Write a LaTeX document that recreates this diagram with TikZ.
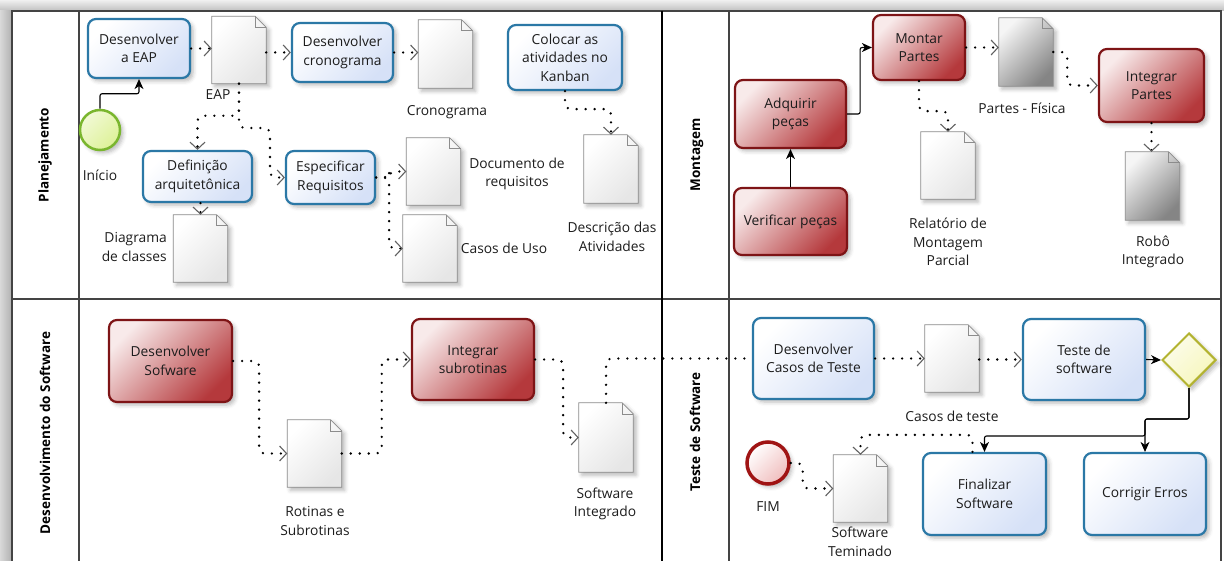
\documentclass[tikz,border=0pt]{standalone}
\usepackage{fontspec}
\setmainfont{Open Sans}
\usetikzlibrary{arrows.meta,shapes.geometric,shadows.blur}

\definecolor{taskblue}{HTML}{2B78A6}
\definecolor{taskbluefill}{HTML}{D6E1F7}
\definecolor{taskred}{HTML}{7E1416}
\definecolor{taskredfill}{HTML}{B5393C}
\definecolor{taskredlight}{HTML}{F8EAEA}
\definecolor{docline}{HTML}{8C8C8C}
\definecolor{docgray}{HTML}{858585}
\definecolor{docpale}{HTML}{E6E6E6}
\definecolor{startline}{HTML}{7AB62E}
\definecolor{startfill}{HTML}{DDF197}
\definecolor{endline}{HTML}{A01414}
\definecolor{endfill}{HTML}{F0BDBD}
\definecolor{gwline}{HTML}{B3B330}
\definecolor{gwfill}{HTML}{F6F6BC}
\definecolor{txt}{HTML}{1C1C1C}
\definecolor{frameline}{HTML}{444444}

\tikzset{
  lbl/.style={font=\fontsize{13.8}{18.5}\selectfont, text=txt, align=center, inner sep=0pt},
  lanelbl/.style={font=\fontsize{13.5}{16}\selectfont\bfseries, text=black, rotate=90, inner sep=0pt},
  softshadow/.style={blur shadow={shadow xshift=3pt, shadow yshift=-3pt, shadow blur radius=4pt, shadow opacity=28}},
  bluetask/.style={lbl, rectangle, rounded corners=8pt, line width=2.2pt, draw=taskblue,
    left color=white, right color=taskbluefill, shading angle=45, softshadow},
  redtask/.style={lbl, rectangle, rounded corners=8pt, line width=2.2pt, draw=taskred,
    left color=taskredlight, right color=taskredfill, shading angle=45, softshadow},
  docbox/.style={rectangle, draw=none, inner sep=0pt, minimum width=54pt, minimum height=67pt},
  lightdoc/.style={draw=docline, line width=0.8pt, left color=white, right color=docpale, shading angle=45, softshadow},
  darkdoc/.style={draw=docline, line width=0.8pt, left color=white!92!docgray, right color=docgray, shading angle=45, softshadow},
  docfold/.style={draw=docline, line width=0.6pt},
  startev/.style={circle, minimum size=40pt, inner sep=0pt, line width=2.5pt, draw=startline,
    left color=white!60!startfill, right color=startfill, shading angle=45, softshadow},
  endev/.style={circle, minimum size=40pt, inner sep=0pt, line width=3.5pt, draw=endline,
    left color=white, right color=endfill, shading angle=45, softshadow},
  gateway/.style={diamond, aspect=1, minimum width=54pt, minimum height=54pt, inner sep=0pt,
    line width=2pt, draw=gwline, left color=white!70!gwfill, right color=gwfill, shading angle=45, softshadow},
  dataplain/.style={line width=2.6pt, line cap=round, dash pattern=on 0pt off 9pt, rounded corners=6pt},
  data/.style={dataplain,
    -{Straight Barb[length=7pt,width=15pt,line width=1.1pt,color=black!62]}},
  seq/.style={line width=1.1pt, draw=black, rounded corners=2pt, -{Stealth[length=10pt,width=9pt,inset=3pt]}},
}

% page outline with folded corner, drawn around a named doc node
\newcommand\pageoutline[2]{%
  \path[#1] (#2.south west) -- (#2.north west) -- ([xshift=-11pt]#2.north east)
     -- ([yshift=-11pt]#2.north east) -- (#2.south east) -- cycle;
  \draw[docfold] ([xshift=-11pt]#2.north east) -- ([xshift=-11pt,yshift=-11pt]#2.north east)
     -- ([yshift=-11pt]#2.north east);
}

\begin{document}
\begin{tikzpicture}[x=1pt,y=-1pt]
\useasboundingbox (0,0) rectangle (1224,561);

% window frame shading
\shade[top color=gray!12, bottom color=gray!50] (0,0) rectangle (1224,11);
\shade[left color=gray!30, right color=gray!62] (0,11) rectangle (12,561);

% pool frame and lanes
\draw[frameline, line width=1.3pt] (12,561) -- (12,11) -- (1221,11) -- (1221,561);
\draw[frameline, line width=1.3pt] (12,299) -- (1221,299);
\draw[frameline, line width=1.3pt] (79,11) -- (79,561);
\draw[frameline, line width=1.3pt] (729,11) -- (729,561);
\draw[black, line width=2.6pt] (662,11) -- (662,561);

\node[lanelbl] (lane_plan) at (45,155) {Planejamento};
\node[lanelbl] (lane_mont) at (697,155) {Montagem};
\node[lanelbl] (lane_dev) at (45,433) {Desenvolvimento do Software};
\node[lanelbl] (lane_test) at (695,432) {Teste de Software};

% ---------- Planejamento ----------
\node[bluetask, minimum width=102pt, minimum height=59pt] (t_eap) at (139,48.5) {Desenvolver\\a EAP};
\node[bluetask, minimum width=101pt, minimum height=59pt] (t_crono) at (342.5,52.5) {Desenvolver\\cronograma};
\node[bluetask, minimum width=114pt, minimum height=65pt] (t_kanban) at (565,57.5) {Colocar as\\atividades no\\Kanban};
\node[bluetask, minimum width=109pt, minimum height=51pt] (t_def) at (197.5,176.5) {Definição\\arquitetônica};
\node[bluetask, minimum width=89pt, minimum height=53pt] (t_espec) at (330.5,177.5) {Especificar\\Requisitos};

\node[startev] (start) at (100,130) {};
\node[lbl] (l_start) at (100,175) {Início};

\node[docbox] (d_eap) at (239,50) {};
\pageoutline{lightdoc}{d_eap}
\node[lbl] (l_eap) at (218,95) {EAP};
\node[docbox, minimum height=68pt] (d_crono) at (445.5,54) {};
\pageoutline{lightdoc}{d_crono}
\node[lbl] (l_crono) at (447,112) {Cronograma};
\node[docbox, minimum height=68pt] (d_desc) at (611,169) {};
\pageoutline{lightdoc}{d_desc}
\node[lbl] (l_desc) at (612,237) {Descrição das\\Atividades};
\node[docbox] (d_diag) at (200.5,248.5) {};
\pageoutline{lightdoc}{d_diag}
\node[lbl, align=right, anchor=east] (l_diag) at (167,247) {Diagrama\\de classes};
\node[docbox] (d_docreq) at (433.5,171.5) {};
\pageoutline{lightdoc}{d_docreq}
\node[lbl] (l_docreq) at (517,174) {Documento de\\requisitos};
\node[docbox] (d_casos) at (430,248.5) {};
\pageoutline{lightdoc}{d_casos}
\node[lbl] (l_casos) at (504,248) {Casos de Uso};

\draw[seq] (start.north) -- ++(0,-15) -| (t_eap.south);
\draw[data] (t_eap.east) -- (t_eap.east -| d_eap.west);
\draw[data] (d_eap.east |- t_crono.west) -- (t_crono.west);
\draw[data] (t_crono.east) -- (t_crono.east -| d_crono.west);
\draw[data] (t_kanban.south) -- ++(0,18) -| (d_desc.north);
\draw[data] (d_eap.south) -- ++(0,32) -| (t_def.north);
\draw[data] (d_eap.south) |- (270,128) |- (t_espec.west);
\draw[data] (t_def.south -| d_diag.north) -- (d_diag.north);
\draw[data] (t_espec.east) -- ++(13,0) |- (d_docreq.west);
\draw[data] (t_espec.east) -- ++(13,0) |- (d_casos.west);

% ---------- Montagem ----------
\node[redtask, minimum width=92pt, minimum height=65pt] (t_montar) at (919,47.5) {Montar\\Partes};
\node[redtask, minimum width=111pt, minimum height=68pt] (t_adq) at (790.5,114) {Adquirir\\peças};
\node[redtask, minimum width=113pt, minimum height=67pt] (t_verif) at (790.5,221.5) {Verificar peças};
\node[redtask, minimum width=105pt, minimum height=73pt] (t_integ) at (1151.5,85.5) {Integrar\\Partes};

\node[docbox] (d_rel) at (948,165.5) {};
\pageoutline{lightdoc}{d_rel}
\node[lbl] (l_rel) at (948,242) {Relatório de\\Montagem\\Parcial};
\node[docbox, minimum height=68pt] (d_partes) at (1026,52) {};
\pageoutline{darkdoc}{d_partes}
\node[lbl] (l_partes) at (1022,108) {Partes - Física};
\node[docbox, minimum height=68pt] (d_robo) at (1152.5,186) {};
\pageoutline{darkdoc}{d_robo}
\node[lbl] (l_robo) at (1153,252) {Robô\\Integrado};

\draw[seq] (t_verif.north) -- (t_adq.south);
\draw[seq] (t_adq.east) -- ++(13,0) |- (t_montar.west);
\draw[data] (t_montar.south) -- ++(0,30) -| (d_rel.north);
\draw[data] (t_montar.east) -- (t_montar.east -| d_partes.west);
\draw[data] (d_partes.east) -- ++(14,0) |- (t_integ.west);
\draw[data] (t_integ.south) -- (t_integ.south |- d_robo.north);

% ---------- Desenvolvimento do Software ----------
\node[redtask, minimum width=123pt, minimum height=82pt] (t_devsw) at (170.5,361) {Desenvolver\\Sofware};
\node[redtask, minimum width=122pt, minimum height=81pt] (t_intsub) at (473,359.5) {Integrar\\subrotinas};

\node[docbox] (d_rot) at (314.5,453.5) {};
\pageoutline{lightdoc}{d_rot}
\node[lbl] (l_rot) at (315,521) {Rotinas e\\Subrotinas};
\node[docbox, minimum height=69pt] (d_swint) at (606,437.5) {};
\pageoutline{lightdoc}{d_swint}
\node[lbl] (l_swint) at (605,504) {Software\\Integrado};

\draw[data] (t_devsw.east) -- ++(26,0) |- (d_rot.west);
\draw[data] (d_rot.east) -- ++(40,0) |- (t_intsub.west);
\draw[data] (t_intsub.east) -- ++(28,0) |- (d_swint.west);

% ---------- Teste de Software ----------
\node[bluetask, minimum width=121pt, minimum height=81pt] (t_casos) at (813.5,358.5) {Desenvolver\\Casos de Teste};
\node[bluetask, minimum width=122pt, minimum height=81pt] (t_teste) at (1084,359.5) {Teste de\\software};
\node[gateway] (gw) at (1189,360) {};
\node[bluetask, minimum width=123pt, minimum height=82pt] (t_final) at (984.5,494) {Finalizar\\Software};
\node[bluetask, minimum width=122pt, minimum height=82pt] (t_corr) at (1145,494) {Corrigir Erros};

\node[docbox] (d_casost) at (952,358.5) {};
\pageoutline{lightdoc}{d_casost}
\node[lbl] (l_casost) at (952,416) {Casos de teste};
\node[docbox] (d_swterm) at (860.5,488.5) {};
\pageoutline{lightdoc}{d_swterm}
\node[lbl] (l_swterm) at (860,542) {Software\\Teminado};

\node[endev, minimum size=42pt] (end) at (768,463) {};
\node[lbl] (l_end) at (768,507) {FIM};

\draw[dataplain] (d_swint.north) |- (t_casos.west);
\draw[data] (t_casos.east) -- (t_casos.east -| d_casost.west);
\draw[data] (d_casost.east |- t_teste.west) -- (t_teste.west);
\draw[seq] (t_teste.east) -- (gw.west);
\draw[seq] (gw.south) -- ++(0,31) -| (t_corr.north);
\draw[seq] (gw.south) -- ++(0,31) -| (1145,436) -| (t_final.north);
\draw[data] ([xshift=-12pt]t_final.north) -- ++(0,-17) -| (d_swterm.north);
\draw[data] (end.east) -- ++(12,0) |- (d_swterm.west);

\end{tikzpicture}
\end{document}
